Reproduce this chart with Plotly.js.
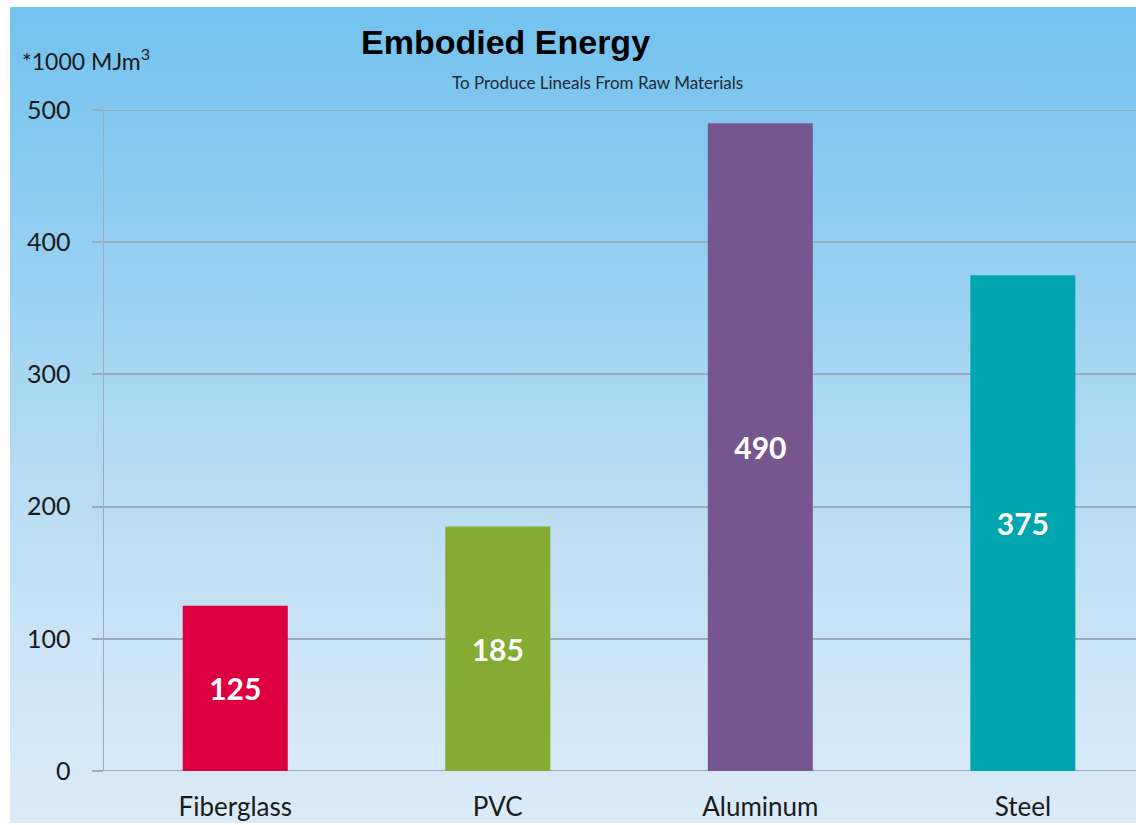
<!DOCTYPE html>
<html>
<head>
<meta charset="utf-8">
<script src="https://cdn.plot.ly/plotly-3.0.1.min.js"></script>
<style>
  html, body { margin: 0; padding: 0; background: #ffffff; width: 1136px; height: 825px; overflow: hidden; }
  #bg { position: absolute; left: 10px; top: 7px; width: 1126px; height: 816px;
        background: linear-gradient(to bottom, #72c2ee 0%, #8fcdf0 25%, #b2dbf3 55%, #cde5f6 80%, #dbebf8 100%); }
  #chart { position: absolute; left: 0; top: 0; width: 1136px; height: 825px; }
</style>
</head>
<body>
<div id="bg"></div>
<div id="chart"></div>
<script>
const categories = ["Fiberglass", "PVC", "Aluminum", "Steel"];
const values = [125, 185, 490, 375];
const barColors = ["#dc0040", "#84ab32", "#77568f", "#00a5b0"];
const yTickValues = [0, 100, 200, 300, 400, 500];

const labelFont = "Lato, 'Open Sans', sans-serif";
const gridColor = "#9aacbb";

const trace = {
  type: "bar",
  x: categories,
  y: values,
  width: 0.4,
  marker: { color: barColors, line: { width: 0 } },
  text: values.map(String),
  textposition: "inside",
  insidetextanchor: "middle",
  textfont: { family: labelFont, size: 30, color: "#ffffff", weight: "bold" },
  hoverinfo: "x+y"
};

const edgeLines = [0, 500].map(v => ({
  type: "line", xref: "paper", yref: "y",
  x0: 0, x1: 1, y0: v, y1: v,
  line: { color: gridColor, width: 2 },
  layer: "below"
}));

const layout = {
  width: 1136,
  height: 825,
  paper_bgcolor: "rgba(0,0,0,0)",
  plot_bgcolor: "rgba(0,0,0,0)",
  margin: { l: 104, r: 0, t: 110, b: 54, pad: 0 },
  showlegend: false,
  xaxis: {
    type: "category",
    range: [-0.5, 3.431],
    showgrid: false,
    zeroline: false,
    showline: false,
    ticks: "",
    tickfont: { family: labelFont, size: 26, color: "#1a1a1a" },
    ticklabelstandoff: 18
  },
  yaxis: {
    range: [0, 500],
    tickvals: yTickValues,
    ticktext: yTickValues.map(String),
    showgrid: true,
    gridcolor: gridColor,
    gridwidth: 2,
    zeroline: false,
    showline: true,
    linecolor: gridColor,
    linewidth: 1.5,
    ticks: "outside",
    ticklen: 11,
    tickwidth: 2,
    tickcolor: gridColor,
    tickfont: { family: labelFont, size: 25, color: "#1a1a1a" },
    ticklabelstandoff: 16
  },
  shapes: edgeLines,
  annotations: [
    {
      text: "<b>Embodied Energy</b>",
      xref: "paper", yref: "paper",
      x: (505 - 104) / 1032, y: 1 + (110 - 42) / 661,
      xanchor: "center", yanchor: "middle",
      showarrow: false,
      font: { family: "Liberation Sans, Arial, sans-serif", size: 34, color: "#000000" }
    },
    {
      text: "To Produce Lineals From Raw Materials",
      xref: "paper", yref: "paper",
      x: (597 - 104) / 1032, y: 1 + (110 - 82) / 661,
      xanchor: "center", yanchor: "middle",
      showarrow: false,
      font: { family: labelFont, size: 17, color: "#1f2a33" }
    },
    {
      text: "*1000 MJm<sup>3</sup>",
      xref: "paper", yref: "paper",
      x: (20 - 104) / 1032, y: 1 + (110 - 60) / 661,
      xanchor: "left", yanchor: "middle",
      showarrow: false,
      font: { family: labelFont, size: 23, color: "#1a1a1a" }
    }
  ]
};

Plotly.newPlot("chart", [trace], layout, { displayModeBar: false, staticPlot: true });
</script>
</body>
</html>
